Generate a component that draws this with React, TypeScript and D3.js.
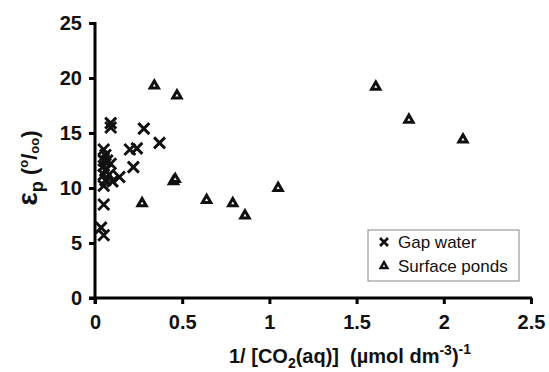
import React, { useEffect, useRef } from 'react';
import * as d3 from 'd3';

// Gap water samples
const gapX = [0.09, 0.09, 0.28, 0.37, 0.24, 0.2, 0.22, 0.14, 0.05, 0.06, 0.05, 0.07, 0.05, 0.09, 0.06, 0.05, 0.08, 0.06, 0.1, 0.05, 0.05, 0.035, 0.05];
const gapY = [15.9, 15.5, 15.4, 14.1, 13.6, 13.5, 11.9, 11.0, 13.5, 13.0, 12.5, 12.5, 12.0, 12.2, 11.6, 11.2, 11.2, 10.7, 10.6, 10.2, 8.5, 6.4, 5.7];

// Surface ponds samples
const pondX = [0.34, 0.47, 1.61, 1.8, 2.11, 1.05, 0.45, 0.46, 0.27, 0.64, 0.79, 0.86];
const pondY = [19.3, 18.4, 19.2, 16.2, 14.4, 10.0, 10.6, 10.8, 8.6, 8.9, 8.6, 7.5];

const xTicks = [0, 0.5, 1, 1.5, 2, 2.5];
const yTicks = [0, 5, 10, 15, 20, 25];
const legendLabels = ['Gap water', 'Surface ponds'];

const FONT = '"Liberation Sans", Arial, Helvetica, sans-serif';

const App = () => {
  const svgRef = useRef<SVGSVGElement>(null);

  useEffect(() => {
    const width = 549;
    const height = 372;
    const svg = d3.select(svgRef.current)
      .attr('width', width)
      .attr('height', height);
    svg.selectAll('*').remove();

    const x = d3.scaleLinear().domain([0, 2.5]).range([95, 531]);
    const y = d3.scaleLinear().domain([0, 25]).range([298, 23]);

    const g = svg.append('g').attr('font-family', FONT);

    // x axis
    const xAxis = g.append('g')
      .attr('transform', `translate(0,${y(0)})`)
      .call(d3.axisBottom(x).tickValues(xTicks).tickSize(6).tickFormat(d => String(d)));
    xAxis.select('.domain').attr('stroke-width', 3).attr('d', `M${x(0) - 6},0H${x(2.5) + 1}`);
    xAxis.selectAll('line').attr('stroke-width', 3);
    xAxis.selectAll('text')
      .attr('font-family', FONT)
      .attr('font-size', 20)
      .attr('font-weight', 'bold')
      .attr('fill', '#111')
      .attr('dy', '1.1em');

    // y axis
    const yAxis = g.append('g')
      .attr('transform', `translate(${x(0)},0)`)
      .call(d3.axisLeft(y).tickValues(yTicks).tickSize(6).tickFormat(d => String(d)));
    yAxis.select('.domain').attr('stroke-width', 3).attr('d', `M0,${y(25) - 1}V${y(0) + 6}`);
    yAxis.selectAll('line').attr('stroke-width', 3);
    yAxis.selectAll('text')
      .attr('font-family', FONT)
      .attr('font-size', 20)
      .attr('font-weight', 'bold')
      .attr('fill', '#111')
      .attr('x', -13);

    // gap water: crosses
    const cross = (s: number) => `M${-s},${-s}L${s},${s}M${-s},${s}L${s},${-s}`;
    g.append('g')
      .selectAll('path')
      .data(gapX.map((v, i) => [v, gapY[i]]))
      .join('path')
      .attr('transform', d => `translate(${x(d[0])},${y(d[1])})`)
      .attr('d', cross(5.5))
      .attr('stroke', '#111')
      .attr('stroke-width', 2.9)
      .attr('fill', 'none');

    // surface ponds: triangles
    const tri = d3.symbol().type(d3.symbolTriangle).size(30);
    g.append('g')
      .selectAll('path')
      .data(pondX.map((v, i) => [v, pondY[i]]))
      .join('path')
      .attr('transform', d => `translate(${x(d[0])},${y(d[1])})`)
      .attr('d', tri())
      .attr('stroke', '#111')
      .attr('stroke-width', 3)
      .attr('stroke-linejoin', 'miter')
      .attr('fill', '#fff');

    // legend
    const lg = g.append('g');
    lg.append('rect')
      .attr('x', 368).attr('y', 230).attr('width', 151).attr('height', 51)
      .attr('fill', '#fff').attr('stroke', '#888').attr('stroke-width', 1);
    lg.append('path')
      .attr('transform', 'translate(384,242)')
      .attr('d', cross(4))
      .attr('stroke', '#111').attr('stroke-width', 2.6).attr('fill', 'none');
    lg.append('path')
      .attr('transform', 'translate(384,266)')
      .attr('d', d3.symbol().type(d3.symbolTriangle).size(20)())
      .attr('stroke', '#111').attr('stroke-width', 2.4).attr('fill', '#fff');
    legendLabels.forEach((t, i) => {
      lg.append('text')
        .attr('x', 398).attr('y', 248 + i * 24)
        .attr('font-size', 17)
        .attr('fill', '#111')
        .text(t);
    });

    // x axis label
    const xl = g.append('text')
      .attr('x', 350).attr('y', 363)
      .attr('text-anchor', 'middle')
      .attr('font-size', 20)
      .attr('font-weight', 'bold')
      .attr('fill', '#111');
    xl.append('tspan').text('1/ [CO');
    xl.append('tspan').attr('font-size', 14).attr('dy', 5).text('2');
    xl.append('tspan').attr('dy', -5).text('(aq)]\u00a0\u00a0(\u00b5mol dm');
    xl.append('tspan').attr('font-size', 14).attr('dy', -8).text('-3');
    xl.append('tspan').attr('dy', 8).text(')');
    xl.append('tspan').attr('font-size', 14).attr('dy', -9).text('-1');

    // y axis label
    const yl = g.append('text')
      .attr('transform', 'translate(37,168) rotate(-90)')
      .attr('text-anchor', 'middle')
      .attr('font-weight', 'bold')
      .attr('fill', '#111');
    yl.append('tspan').attr('font-size', 28).text('\u03b5');
    yl.append('tspan').attr('font-size', 18).attr('dy', 6).text('p');
    yl.append('tspan').attr('font-size', 22).attr('dy', -6).text('\u00a0(');
    yl.append('tspan').attr('font-size', 13).attr('dy', -9).text('o');
    yl.append('tspan').attr('font-size', 22).attr('dy', 9).text('/');
    yl.append('tspan').attr('font-size', 13).attr('dy', 2).text('oo');
    yl.append('tspan').attr('font-size', 22).attr('dy', -2).text(')');
  }, []);

  return (
    <svg ref={svgRef} style={{ position: 'absolute', left: 0, top: 0, background: '#fff' }}></svg>
  );
};

export default App;
